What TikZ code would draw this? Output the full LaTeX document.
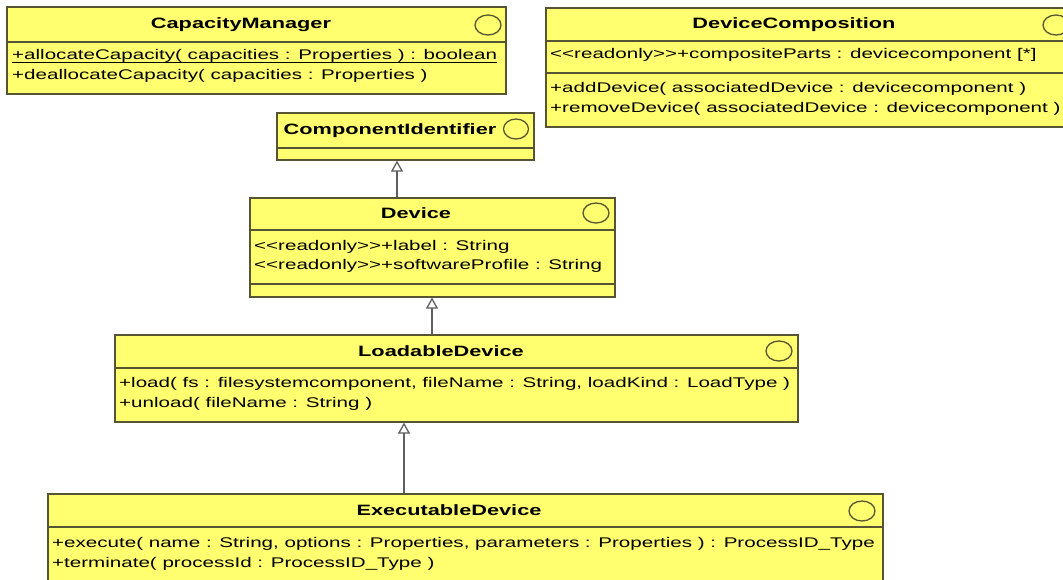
\documentclass[tikz,border=0pt]{standalone}
\usepackage{fontspec}
\newfontfamily\umlfont[FakeStretch=1.47]{Liberation Sans}
\newfontfamily\umltitlefont[FakeStretch=1.45]{Liberation Sans}
\usetikzlibrary{arrows.meta}
\definecolor{umlfill}{RGB}{255,255,112}
\definecolor{umlline}{RGB}{85,85,51}
\definecolor{genline}{RGB}{95,95,95}
% guillemet pairs kept as two separate characters
\newcommand\dlt{<\kern0pt<}
\newcommand\dgt{>\kern0pt>}

\begin{document}
\begin{tikzpicture}[x=1pt,y=-1pt,
  classbox/.style={draw=umlline, fill=umlfill, line width=1.6pt, rectangle,
                   anchor=north west, inner sep=0pt},
  sepline/.style={draw=umlline, line width=1.6pt},
  badge/.style={draw=umlline, line width=1.3pt},
  title/.style={font=\umltitlefont\fontsize{15}{17}\selectfont\bfseries, inner sep=0pt, anchor=base},
  member/.style={font=\umlfont\fontsize{14}{16}\selectfont, inner sep=0pt, anchor=base west},
  gen/.style={draw=genline, line width=1.5pt,
              -{Triangle[open, width=12pt, length=11pt, line width=1.3pt]}}
]
\fill[white] (0,0) rectangle (1063,579);
\useasboundingbox (0,0) rectangle (1063,579);

% ---------- CapacityManager ----------
\node[classbox, minimum width=499, minimum height=87] (cm) at (6,6) {};
\draw[sepline] (6,42) -- (505,42);
\draw[badge] (488,25) ellipse [x radius=13, y radius=10];
\node[title] (cmt) at (241,28) {CapacityManager};
\node[member] (cmo1) at (12,59) {+allocateCapacity( capacities : Properties ) : boolean};
\draw[line width=1pt] (cmo1.south west) -- (cmo1.south east);
\node[member] (cmo2) at (12,79) {+deallocateCapacity( capacities : Properties )};

% ---------- DeviceComposition ----------
\node[classbox, minimum width=530, minimum height=119] (dc) at (545,7) {};
\draw[sepline] (545,41) -- (1075,41);
\draw[sepline] (545,73) -- (1075,73);
\draw[badge] (1056,25) ellipse [x radius=13, y radius=10];
\node[title] (dct) at (794,28) {DeviceComposition};
\node[member] (dca) at (550,58) {\dlt readonly\dgt+compositeParts : devicecomponent [*]};
\node[member] (dco1) at (550,92) {+addDevice( associatedDevice : devicecomponent )};
\node[member] (dco2) at (550,112) {+removeDevice( associatedDevice : devicecomponent )};

% ---------- ComponentIdentifier ----------
\node[classbox, minimum width=257, minimum height=47] (ci) at (276,112) {};
\draw[sepline] (276,148) -- (533,148);
\draw[badge] (516,129) ellipse [x radius=12.5, y radius=10];
\node[title] (cit) at (390,134) {ComponentIdentifier};

% ---------- Device ----------
\node[classbox, minimum width=365, minimum height=99] (dev) at (249,197) {};
\draw[sepline] (249,230) -- (614,230);
\draw[sepline] (249,284) -- (614,284);
\draw[badge] (596,213) ellipse [x radius=13, y radius=10];
\node[title] (devt) at (416,218) {Device};
\node[member] (deva1) at (254,250) {\dlt readonly\dgt+label : String};
\node[member] (deva2) at (254,269) {\dlt readonly\dgt+softwareProfile : String};

% ---------- LoadableDevice ----------
\node[classbox, minimum width=683, minimum height=87] (ld) at (114,334) {};
\draw[sepline] (114,368) -- (797,368);
\draw[badge] (779,351) ellipse [x radius=13, y radius=10];
\node[title] (ldt) at (441,356) {LoadableDevice};
\node[member] (ldo1) at (119,387) {+load( fs : filesystemcomponent, fileName : String, loadKind : LoadType )};
\node[member] (ldo2) at (119,407) {+unload( fileName : String )};

% ---------- ExecutableDevice ----------
\node[classbox, minimum width=835, minimum height=97] (ed) at (47,493) {};
\draw[sepline] (47,527) -- (882,527);
\draw[badge] (862,511) ellipse [x radius=13, y radius=10];
\node[title] (edt) at (449,515) {ExecutableDevice};
\node[member] (edo1) at (52,547) {+execute( name : String, options : Properties, parameters : Properties ) : ProcessID\_Type};
\node[member] (edo2) at (52,567) {+terminate( processId : ProcessID\_Type )};

% ---------- generalisations ----------
\coordinate (devup) at (397,197);
\coordinate (ldup) at (432,334);
\coordinate (edup) at (404,493);
\draw[gen] (devup) -- (devup |- ci.south);
\draw[gen] (ldup) -- (ldup |- dev.south);
\draw[gen] (edup) -- (edup |- ld.south);
\end{tikzpicture}
\end{document}
